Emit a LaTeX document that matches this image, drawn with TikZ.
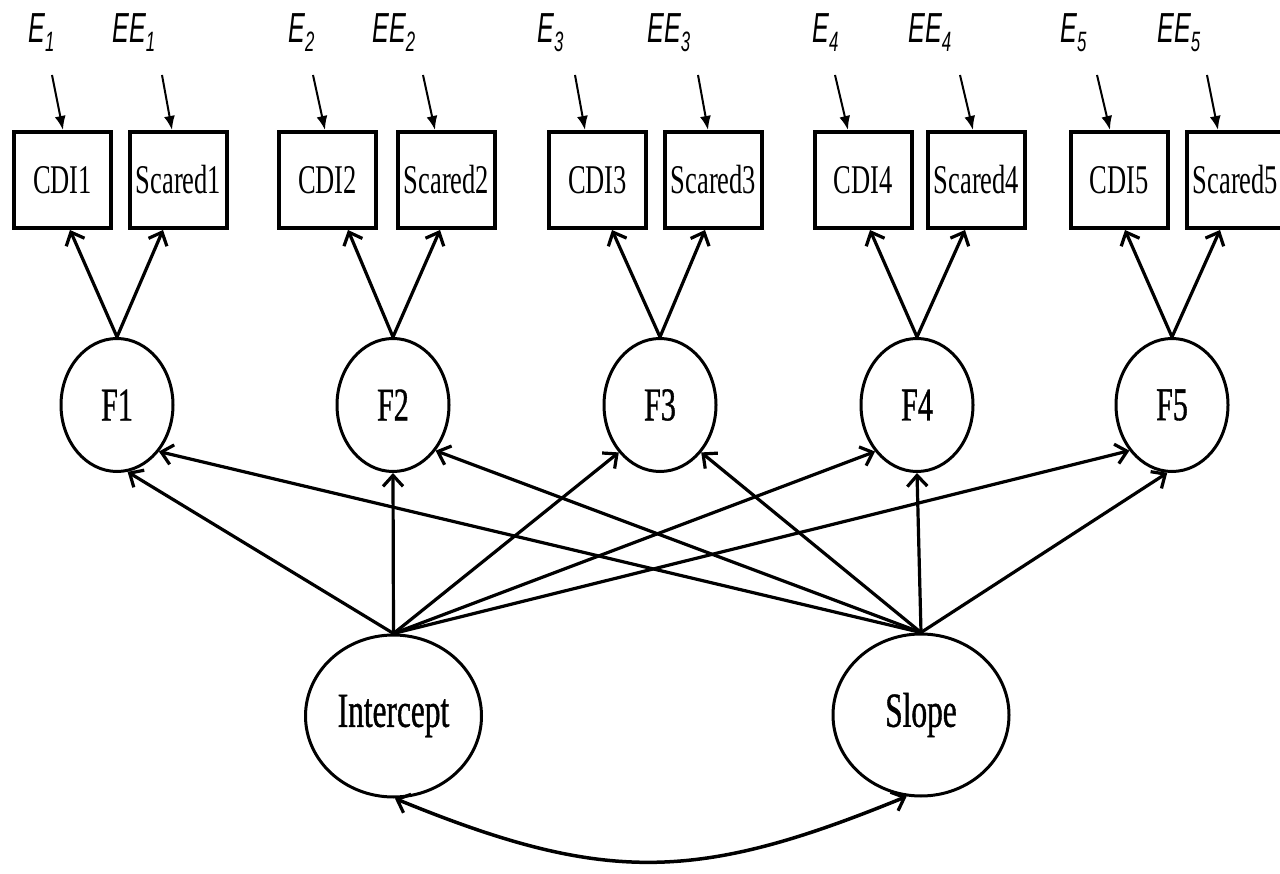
\documentclass[tikz,border=0pt]{standalone}
\usepackage{fontspec}
\usetikzlibrary{shapes.geometric,arrows.meta,calc}
\newfontfamily\boxfont[FakeStretch=0.65]{Liberation Serif}
\newfontfamily\circfont[FakeStretch=0.64,FakeBold=0.8]{Liberation Serif}
\newfontfamily\errfont[FakeStretch=0.6]{Liberation Sans}
\newcommand\errsub[2]{#1\raisebox{-9pt}{\fontsize{28}{28}\selectfont #2}}

\begin{document}
\begin{tikzpicture}[x=1pt,y=-1pt,
  manifest/.style={draw, line width=4pt, minimum width=97pt, minimum height=96pt,
    inner sep=0pt, font={\boxfont\fontsize{40.8}{48}\selectfont}},
  factor/.style={ellipse, draw, line width=3pt, minimum width=112pt, minimum height=133pt,
    inner sep=0pt, font={\circfont\fontsize{47}{52}\selectfont}},
  growth/.style={ellipse, draw, line width=3pt, minimum width=176pt, minimum height=162pt,
    inner sep=0pt, font={\circfont\fontsize{49}{54}\selectfont}},
  errlabel/.style={anchor=base west, inner sep=0pt, font={\errfont\itshape\fontsize{42}{48}\selectfont}},
  errarrow/.style={line width=2pt, -{Latex[length=14pt,width=11pt]}},
  loading/.style={line width=3.2pt, -{Straight Barb[length=11pt,width=20pt,line width=3.2pt]}},
  covar/.style={line width=3.5pt, {Straight Barb[length=11pt,width=20pt,line width=3.2pt]}-{Straight Barb[length=11pt,width=20pt,line width=3.2pt]}},
]
\fill[white] (0,0) rectangle (1280,874);
\useasboundingbox (0,0) rectangle (1280,874);

% observed indicators
\node[manifest] (C1) at (62.5,180)  {CDI1};
\node[manifest] (S1) at (178.5,180) {Scared1};
\node[manifest] (C2) at (327.5,180) {CDI2};
\node[manifest] (S2) at (446.5,180) {Scared2};
\node[manifest] (C3) at (597.5,180) {CDI3};
\node[manifest] (S3) at (713.5,180) {Scared3};
\node[manifest] (C4) at (863,180)   {CDI4};
\node[manifest] (S4) at (976.5,180) {Scared4};
\node[manifest] (C5) at (1119,180)  {CDI5};
\node[manifest] (S5) at (1235.5,180) {Scared5};

% error terms
\node[errlabel] (eC1) at (28,43)   {\errsub{E}{1}};
\node[errlabel] (eS1) at (112,43)  {\errsub{EE}{1}};
\node[errlabel] (eC2) at (288,43)  {\errsub{E}{2}};
\node[errlabel] (eS2) at (372,43)  {\errsub{EE}{2}};
\node[errlabel] (eC3) at (537,43)  {\errsub{E}{3}};
\node[errlabel] (eS3) at (647,43)  {\errsub{EE}{3}};
\node[errlabel] (eC4) at (812,43)  {\errsub{E}{4}};
\node[errlabel] (eS4) at (908,43)  {\errsub{EE}{4}};
\node[errlabel] (eC5) at (1060,43) {\errsub{E}{5}};
\node[errlabel] (eS5) at (1157,43) {\errsub{EE}{5}};

\foreach \nm/\a/\b in {C1/24/0.5, S1/50/-6.5, C2/25/-2.5, S2/51/-11.5, C3/38/-12.5,
                       S3/51/-5.5, C4/23/-15, S4/52/-3.5, C5/37/-9, S5/50/-17.5}
  \draw[errarrow] ([shift={(\a,32)}]e\nm.base west) -- ([shift={(\b,0)}]\nm.north);

% first-order factors
\node[factor] (F1) at (117,405)  {F1};
\node[factor] (F2) at (393,405)  {F2};
\node[factor] (F3) at (660,405)  {F3};
\node[factor] (F4) at (917,405)  {F4};
\node[factor] (F5) at (1172,405) {F5};

\foreach \f/\c/\s/\dc/\ds in {1/C1/S1/7.5/-15.5, 2/C2/S2/20.5/-6.5, 3/C3/S3/14.5/-8.5,
                              4/C4/S4/7/-11.5, 5/C5/S5/6/-15.5} {
  \draw[loading] (F\f.north) -- ([shift={(\dc,0)}]\c.south);
  \draw[loading] (F\f.north) -- ([shift={(\ds,0)}]\s.south);
}

% growth factors
\node[growth] (I) at (393.5,716) {Intercept};
\node[growth] (S) at (921,715)   {Slope};

\draw[loading] (I.north) -- (F1.-81.6);
\draw[loading] (I.north) -- (F2.-90);
\draw[loading] (I.north) -- (F3.-131);
\draw[loading] (I.north) -- (F4.-132);
\draw[loading] (I.north) -- (F5.-133);

\draw[loading] (S.north) -- (F1.-48);
\draw[loading] (S.north) -- (F2.-47);
\draw[loading] (S.north) -- (F3.-49);
\draw[loading] (S.north) -- (F4.-90);
\draw[loading] (S.north) -- (F5.-94);

% intercept-slope covariance
\draw[covar] (I.-89) .. controls +(210,86) and +(-210,86) .. (S.-100);
\end{tikzpicture}
\end{document}
